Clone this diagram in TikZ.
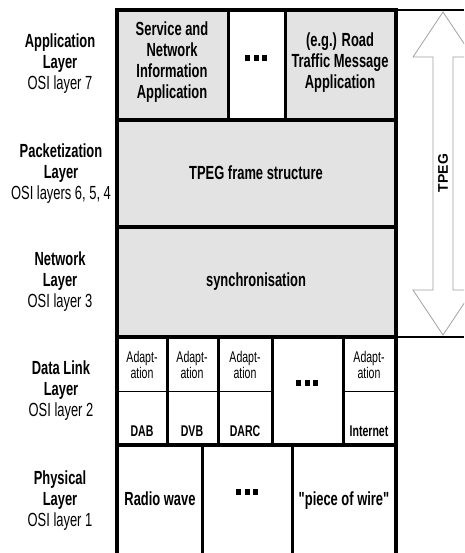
\documentclass[tikz,border=0pt]{standalone}
\usepackage{fontspec}
\setmainfont[FakeStretch=0.68]{Liberation Sans}
\newfontfamily\tpegfont{Liberation Sans}
\newfontfamily\quotefont[FakeStretch=0.68]{Liberation Sans}

\definecolor{boxgrey}{RGB}{227,227,227}
\definecolor{arrowgrey}{RGB}{160,160,160}

\newcommand{\sqdots}{\rule{5pt}{6pt}\hspace{3.5pt}\rule{5pt}{6pt}\hspace{3.5pt}\rule{5pt}{6pt}}

\begin{document}
\begin{tikzpicture}[x=1pt,y=-1pt,
  frameline/.style={line width=3.5pt},
  innerline/.style={line width=3pt},
  layerlabel/.style={align=center,font=\fontsize{19}{21}\selectfont},
  cell/.style={align=center,font=\bfseries\fontsize{19}{21}\selectfont},
  adapt/.style={align=center,inner sep=0pt,font=\fontsize{15.5}{14}\selectfont},
  bearer/.style={align=center,inner sep=0pt,font=\bfseries\fontsize{15.5}{15}\selectfont}]
\useasboundingbox (0,0) rectangle (464,553);
\clip (0,0) rectangle (464,553);

\coordinate (TL) at (117,10);
\coordinate (TR) at (396,10);
\coordinate (BL) at (117,555);
\coordinate (BR) at (396,555);

% grey parts
\fill[boxgrey] (117,10) rectangle (228,120);
\fill[boxgrey] (285,10) rectangle (396,120);
\fill[boxgrey] (117,120) rectangle (396,337);

% the TPEG arrow
\draw[arrowgrey, line width=0.8pt, fill=white]
  (443,12) -- (473,57) -- (453,57) -- (453,290) -- (473,290) -- (443,335)
  -- (413,290) -- (433,290) -- (433,57) -- (413,57) -- cycle;
\draw[line width=2.5pt] (TR) -- (464,10);
\draw[line width=2pt] (396,337) -- (464,337);

% layers
\draw[frameline] (TL) -- (TR) -- (BR) -- (BL) -- cycle;
\draw[frameline] (117,120) -- (396,120);
\draw[frameline] (117,227) -- (396,227);
\draw[frameline] (117,337) -- (396,337);
\draw[frameline] (117,445) -- (396,445);

% columns
\draw[innerline] (228,10) -- (228,120);
\draw[innerline] (285,10) -- (285,120);
\draw[innerline] (167,337) -- (167,445);
\draw[innerline] (218,337) -- (218,445);
\draw[innerline] (272,337) -- (272,445);
\draw[innerline] (343,337) -- (343,445);
\draw[innerline] (202,445) -- (202,555);
\draw[innerline] (292,445) -- (292,555);
\draw[line width=0.8pt] (117,391) -- (272,391);
\draw[line width=0.8pt] (343,391) -- (396,391);

% layer names
\node[layerlabel] (applbl) at (60,64) {\textbf{Application}\\\textbf{Layer}\\OSI layer 7};
\node[layerlabel] (pktlbl) at (61,174) {\textbf{Packetization}\\\textbf{Layer}\\OSI layers 6, 5, 4};
\node[layerlabel] (netlbl) at (60,282) {\textbf{Network}\\\textbf{Layer}\\OSI layer 3};
\node[layerlabel] (dllbl) at (61,391) {\textbf{Data Link}\\\textbf{Layer}\\OSI layer 2};
\node[layerlabel] (phylbl) at (60,501) {\textbf{Physical}\\\textbf{Layer}\\OSI layer 1};

% cell texts
\node[cell] (sni) at (172,62) {Service and\\Network\\Information\\Application};
\node[inner sep=0pt] (appdots) at (256,58) {\sqdots};
\node[cell] (rtm) at (340,63) {(e.g.) Road\\Traffic Message\\Application};
\node[cell] (frame) at (256,173) {TPEG frame structure};
\node[cell] (sync) at (256,282) {synchronisation};

\node[adapt] (adab) at (142,365) {Adapt-\\ation};
\node[adapt] (advb) at (192,365) {Adapt-\\ation};
\node[adapt] (adarc) at (245,365) {Adapt-\\ation};
\node[adapt] (ainet) at (369,365) {Adapt-\\ation};
\node[bearer] (dab) at (142,431) {DAB};
\node[bearer] (dvb) at (192,431) {DVB};
\node[bearer] (darc) at (245,431) {DARC};
\node[bearer] (inet) at (369,431) {Internet};
\node[inner sep=0pt] (dldots) at (307,383) {\sqdots};

\node[cell] (radio) at (160,499) {Radio wave};
\node[inner sep=0pt] (phydots) at (247,492) {\sqdots};
\node[cell,font=\quotefont\bfseries\fontsize{19}{21}\selectfont] (wire) at (344,501) {"piece of wire"};

\node[rotate=90,font=\tpegfont\bfseries\fontsize{14}{14}\selectfont] (tpeg) at (443,173) {TPEG};
\end{tikzpicture}
\end{document}
